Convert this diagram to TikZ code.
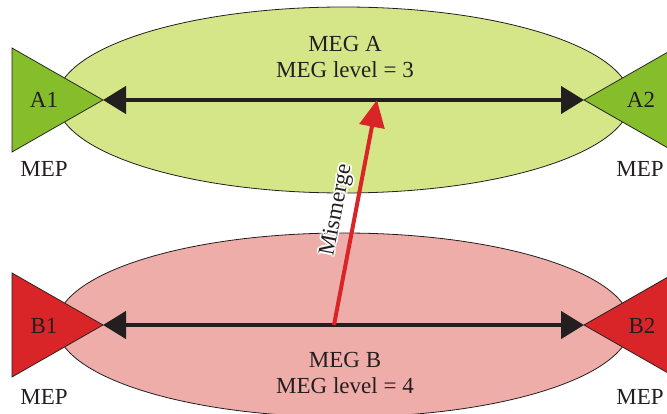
\documentclass[tikz,border=0pt]{standalone}
\usepackage{fontspec}
\setmainfont{Liberation Serif}
\usetikzlibrary{arrows.meta}
\definecolor{megAfill}{HTML}{D5E688}
\definecolor{mepgreen}{HTML}{86BE2B}
\definecolor{megBfill}{HTML}{EFADAA}
\definecolor{mepred}{HTML}{D92528}
\definecolor{linkblack}{HTML}{231F20}
\newcommand\halocopy[3]{\rlap{\hspace{#1}\raisebox{#2}{\color{white}#3}}}
\newcommand\halotext[1]{\leavevmode
  \halocopy{1.8pt}{0pt}{#1}\halocopy{-1.8pt}{0pt}{#1}%
  \halocopy{0pt}{1.8pt}{#1}\halocopy{0pt}{-1.8pt}{#1}%
  \halocopy{1.3pt}{1.3pt}{#1}\halocopy{-1.3pt}{1.3pt}{#1}%
  \halocopy{1.3pt}{-1.3pt}{#1}\halocopy{-1.3pt}{-1.3pt}{#1}%
  #1}
\begin{document}
\begin{tikzpicture}[x=1pt,y=-1pt,
  megbody/.style={draw=linkblack, line width=0.8pt},
  mepshape/.style={draw=linkblack, line width=0.8pt},
  lbl/.style={font=\fontsize{23}{26}\selectfont, text=linkblack, inner sep=0pt, anchor=base},
  link/.style={draw=linkblack, line width=4.5pt, {Triangle[length=23pt,width=27pt]}-{Triangle[length=23pt,width=27pt]}},
  mislink/.style={draw=mepred, line width=4pt, -{Triangle[length=27pt,width=25pt]}},
  mislbl/.style={font=\fontsize{23}{26}\selectfont, text=linkblack, inner sep=0pt, rotate=79}
]
\useasboundingbox (0,0) rectangle (667,414);
\clip (0,0) rectangle (667,414);

% MEG ellipses
\draw[megbody, fill=megAfill] (343.5,100) ellipse [x radius=287, y radius=93];
\draw[megbody, fill=megBfill] (343.5,325) ellipse [x radius=287, y radius=92];

% MEP triangles
\draw[mepshape, fill=mepgreen] (12,48) -- (103,100) -- (12,152) -- cycle;
\draw[mepshape, fill=mepgreen] (675,48) -- (584,100) -- (675,152) -- cycle;
\draw[mepshape, fill=mepred] (12,273) -- (103,325) -- (12,377) -- cycle;
\draw[mepshape, fill=mepred] (675,273) -- (584,325) -- (675,377) -- cycle;

\coordinate (a1tip) at (103,100);
\coordinate (a2tip) at (584,100);
\coordinate (b1tip) at (103,325);
\coordinate (b2tip) at (584,325);
\coordinate (mmstart) at (334,325);
\coordinate (mmend) at (377,100);

% links
\draw[link] (a1tip) -- (a2tip);
\draw[link] (b1tip) -- (b2tip);
\draw[mislink] (mmstart) -- (mmend);

% labels
\node[lbl] (megA) at (345,52) {MEG A};
\node[lbl] (levA) at (345,78) {MEG level = 3};
\node[lbl] (megB) at (345,367) {MEG B};
\node[lbl] (levB) at (345,393) {MEG level = 4};

\node[lbl] (A1) at (44,108) {A1};
\node[lbl] (A2) at (641,108) {A2};
\node[lbl] (B1) at (44,333) {B1};
\node[lbl] (B2) at (642,333) {B2};

\node[lbl] (mepA1) at (44,177) {MEP};
\node[lbl] (mepA2) at (640,177) {MEP};
\node[lbl] (mepB1) at (44,404) {MEP};
\node[lbl] (mepB2) at (640,404) {MEP};

% Mismerge label with white halo
\node[mislbl] (mislabel) at (337,210) {\halotext{Mismerge}};
\end{tikzpicture}
\end{document}
